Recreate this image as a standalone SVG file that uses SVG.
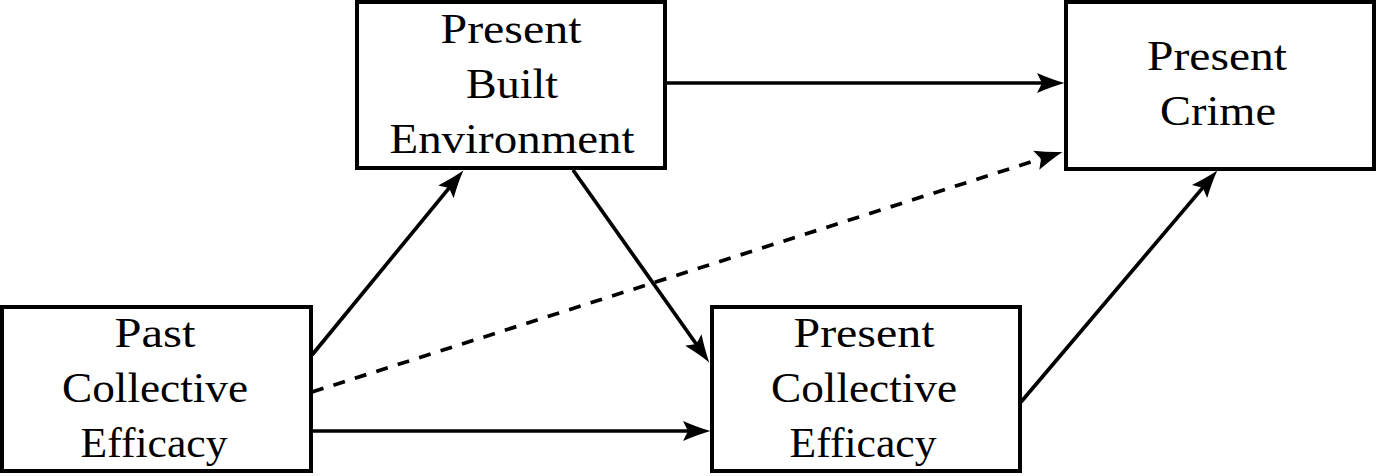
<svg xmlns="http://www.w3.org/2000/svg" width="1376" height="476" viewBox="0 0 1376 476">
  <style>
    .box { fill: #fff; stroke: #000; stroke-width: 4; }
    .lbl { font-family: "Liberation Serif", "Times New Roman", serif; font-size: 43px; fill: #000; text-anchor: middle; }
    .edge { fill: none; stroke: #000; stroke-width: 3.7; marker-end: url(#head); }
    .dashed { stroke-dasharray: 12 10.5; }
  </style>
  <defs>
    <!-- latex-style arrow tip, slightly notched back -->
    <marker id="head" markerUnits="userSpaceOnUse" viewBox="-30 -12 32 24" markerWidth="32" markerHeight="24" refX="-15" refY="0" orient="auto">
      <path d="M0.5,0 Q-12,-3.5 -27,-10 L-22,0 L-27,10 Q-12,3.5 0.5,0 Z" fill="#000"/>
    </marker>
  </defs>

  <rect width="1376" height="476" fill="#fff"/>

  <!-- connectors -->
  <g id="connectors">
    <line class="edge" x1="665" y1="83" x2="1049" y2="83"/>
    <line class="edge" x1="312" y1="355" x2="453.5" y2="182.6"/>
    <line class="edge dashed" x1="312" y1="392" x2="1047.7" y2="156.6"/>
    <line class="edge" x1="573" y1="170" x2="700.3" y2="349.8"/>
    <line class="edge" x1="312" y1="431" x2="695" y2="431"/>
    <line class="edge" x1="1021" y1="402" x2="1207.3" y2="182.4"/>
  </g>

  <!-- nodes -->
  <g id="past-collective-efficacy">
    <rect class="box" x="2" y="307" width="309" height="164"/>
    <text class="lbl" x="155" y="347" textLength="81" lengthAdjust="spacingAndGlyphs">Past</text>
    <text class="lbl" x="155" y="402" textLength="186" lengthAdjust="spacingAndGlyphs">Collective</text>
    <text class="lbl" x="154" y="457" textLength="147" lengthAdjust="spacingAndGlyphs">Efficacy</text>
  </g>

  <g id="present-built-environment">
    <rect class="box" x="357" y="2" width="308" height="166"/>
    <text class="lbl" x="511" y="43" textLength="141" lengthAdjust="spacingAndGlyphs">Present</text>
    <text class="lbl" x="512" y="98" textLength="92" lengthAdjust="spacingAndGlyphs">Built</text>
    <text class="lbl" x="512" y="153" textLength="245" lengthAdjust="spacingAndGlyphs">Environment</text>
  </g>

  <g id="present-crime">
    <rect class="box" x="1066" y="2" width="308" height="167"/>
    <text class="lbl" x="1217" y="70" textLength="140" lengthAdjust="spacingAndGlyphs">Present</text>
    <text class="lbl" x="1218" y="125" textLength="116" lengthAdjust="spacingAndGlyphs">Crime</text>
  </g>

  <g id="present-collective-efficacy">
    <rect class="box" x="712" y="307" width="308" height="164"/>
    <text class="lbl" x="864" y="347" textLength="141" lengthAdjust="spacingAndGlyphs">Present</text>
    <text class="lbl" x="864" y="402" textLength="186" lengthAdjust="spacingAndGlyphs">Collective</text>
    <text class="lbl" x="863" y="457" textLength="147" lengthAdjust="spacingAndGlyphs">Efficacy</text>
  </g>
</svg>
